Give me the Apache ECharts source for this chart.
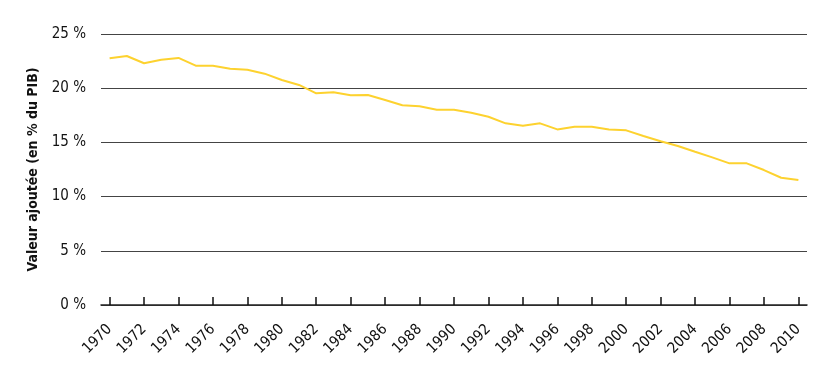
<!DOCTYPE html>
<html><head><meta charset="utf-8">
<script src="https://cdn.jsdelivr.net/npm/echarts@6/dist/echarts.min.js"></script>
<style>html,body{margin:0;padding:0;background:#fff}#c{width:837px;height:384px}</style>
</head><body><div id="c"></div>
<script>
const years = [];
for (let y = 1970; y <= 2010; y++) years.push(String(y));
const valeurAjoutee = [22.76,22.97,22.3,22.63,22.79,22.08,22.08,21.8,21.7,21.34,20.76,20.3,19.53,19.62,19.35,19.38,18.91,18.42,18.33,18.02,18.02,17.74,17.37,16.76,16.54,16.76,16.2,16.45,16.45,16.2,16.11,15.59,15.1,14.67,14.14,13.62,13.07,13.07,12.45,11.74,11.53];
const yTicks = [0,5,10,15,20,25];
const yTitle = 'Valeur ajoutée (en % du PIB)';
const FONT = "'Liberation Sans Narrow','DejaVu Sans Condensed',sans-serif";
const chart = echarts.init(document.getElementById('c'));
chart.setOption({
  animation: false,
  grid: {left: 101, right: 30, top: 34, bottom: 79},
  xAxis: {
    type: 'category', data: years, boundaryGap: true,
    axisLine: {show: true, lineStyle: {color: '#222', width: 1.5}},
    axisTick: {show: true, inside: true, length: 8, alignWithLabel: true, interval: (i) => i % 2 === 0, lineStyle: {color: '#111', width: 1.5}},
    axisLabel: {interval: 1, rotate: 45, fontFamily: FONT, fontSize: 15, color: '#111', margin: 22}
  },
  yAxis: {
    type: 'value', min: 0, max: 25, interval: 5,
    name: yTitle, nameLocation: 'middle', nameGap: 58,
    nameTextStyle: {fontFamily: FONT, fontSize: 14, fontWeight: 'bold', color: '#111'},
    axisLine: {show: false}, axisTick: {show: false},
    axisLabel: {formatter: v => yTicks.includes(v) ? v + ' %' : '', fontFamily: FONT, fontSize: 15, color: '#111', margin: 15},
    splitLine: {lineStyle: {color: '#444', width: 1}}
  },
  series: [{
    type: 'line', data: valeurAjoutee, symbol: 'none',
    lineStyle: {color: '#FDD22F', width: 2}
  }]
});
</script></body></html>
